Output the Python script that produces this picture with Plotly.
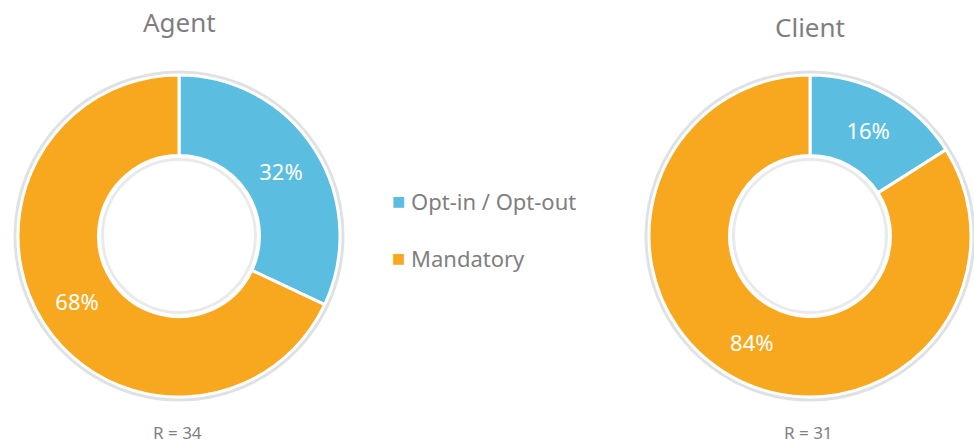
import plotly.graph_objects as go

categories = ["Opt-in / Opt-out", "Mandatory"]
agent_values = [32, 68]
client_values = [16, 84]
panel_titles = ["Agent", "Client"]
respondents = ["R = 34", "R = 31"]
colors = ["#5BBDE0", "#F7A81E"]

W, H = 974, 444
FONT = "Noto Sans"
GRAY = "#7F7F7F"

# pixel geometry of each donut (center x, center y, radius)
geo = [(179, 236, 161), (810, 236, 161)]

def dom(cx, cy, r):
    return dict(x=[(cx - r) / W, (cx + r) / W],
                y=[1 - (cy + r) / H, 1 - (cy - r) / H])

fig = go.Figure()
for vals, (cx, cy, r) in zip([agent_values, client_values], geo):
    fig.add_trace(go.Pie(
        labels=categories, values=vals, hole=0.5, sort=False,
        direction="clockwise", rotation=0,
        marker=dict(colors=colors, line=dict(color="white", width=3)),
        texttemplate="%{value}%", textinfo="text",
        textposition="inside", insidetextorientation="horizontal",
        textfont=dict(color="white", size=22, family=FONT),
        domain=dom(cx, cy, r), showlegend=False, hoverinfo="label+value",
    ))

shapes = []
annotations = []
for (cx, cy, r), title, resp, ty in zip(geo, panel_titles, respondents, [22, 27]):
    rr = r + 2
    shapes.append(dict(type="circle", xref="paper", yref="paper", layer="below",
                       x0=(cx - rr) / W, x1=(cx + rr) / W,
                       y0=1 - (cy + rr) / H, y1=1 - (cy - rr) / H,
                       line=dict(color="rgba(150,160,170,0.3)", width=5)))
    ri = r * 0.5 - 4
    shapes.append(dict(type="circle", xref="paper", yref="paper", layer="above",
                       x0=(cx - ri) / W, x1=(cx + ri) / W,
                       y0=1 - (cy + ri) / H, y1=1 - (cy - ri) / H,
                       line=dict(color="rgba(150,160,170,0.22)", width=3)))
    annotations.append(dict(text=title, x=cx / W, y=1 - ty / H, xref="paper", yref="paper",
                            showarrow=False, xanchor="center", yanchor="middle",
                            font=dict(size=26, color=GRAY, family=FONT)))
    annotations.append(dict(text=resp, x=(cx - 2) / W, y=1 - (cy + 196) / H, xref="paper", yref="paper",
                            showarrow=False, xanchor="center", yanchor="middle",
                            font=dict(size=17, color=GRAY, family=FONT)))

# legend
for i, (lab, col) in enumerate(zip(categories, colors)):
    ly = 201 + i * 57
    annotations.append(dict(text="■", x=398 / W, y=1 - ly / H, xref="paper", yref="paper",
                            showarrow=False, xanchor="center", yanchor="middle",
                            font=dict(size=14, color=col, family="DejaVu Sans")))
    annotations.append(dict(text=lab, x=409 / W, y=1 - ly / H, xref="paper", yref="paper",
                            showarrow=False, xanchor="left", yanchor="middle",
                            font=dict(size=22, color=GRAY, family=FONT)))

fig.update_layout(width=W, height=H, margin=dict(l=0, r=0, t=0, b=0),
                  paper_bgcolor="white", plot_bgcolor="white",
                  shapes=shapes, annotations=annotations, showlegend=False)
fig.write_html("out.html", config={"displayModeBar": False},
               post_script="document.body.style.margin='0';document.body.style.overflow='hidden';")
